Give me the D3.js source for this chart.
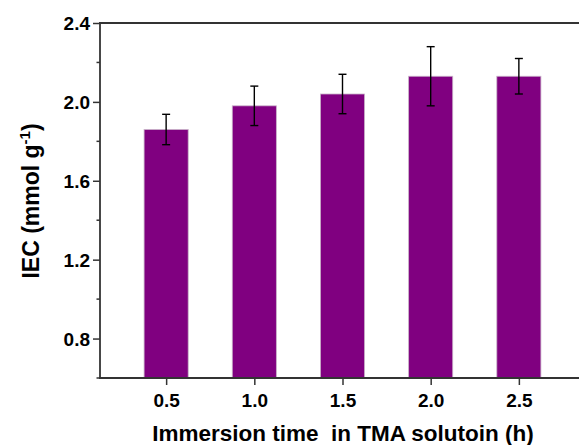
<!DOCTYPE html>
<html><head><meta charset="utf-8">
<script src="https://cdn.jsdelivr.net/npm/d3@7"></script>
<style>body{margin:0;background:#fff}svg{display:block}text{font-family:"Liberation Sans",Arial,sans-serif;font-weight:bold;fill:#000}</style>
</head><body><svg id="c" width="579" height="445"></svg>
<script>
const times = [0.5, 1.0, 1.5, 2.0, 2.5];
const iec = [1.86, 1.98, 2.04, 2.13, 2.13];
const errs = [0.077, 0.10, 0.10, 0.15, 0.09];
const yTicks = [0.8, 1.2, 1.6, 2.0, 2.4];
const yMinor = [0.6, 1.0, 1.4, 1.8, 2.2];
const xTickLabels = ["0.5", "1.0", "1.5", "2.0", "2.5"];

const svg = d3.select("#c");
const L = 100, R = 585, T = 23, B = 378;
const x = d3.scaleLinear().domain([0.125, 2.875]).range([L, R]);
const y = d3.scaleLinear().domain([0.6, 2.4]).range([B, T]);
const bw = x(0.25) - x(0);
const ax = "#333";

svg.append("g").selectAll("rect").data(times).join("rect")
  .attr("x", (d) => x(d) - bw / 2).attr("width", bw)
  .attr("y", (d, i) => y(iec[i])).attr("height", (d, i) => y(0.6) - y(iec[i]))
  .attr("fill", "#800080").attr("stroke", "#c9b3c9").attr("stroke-width", 0.8);

const eg = svg.append("g").attr("stroke", "#000").attr("stroke-width", 1.4);
times.forEach((t, i) => {
  const cx = x(t), y1 = y(iec[i] + errs[i]), y2 = y(iec[i] - errs[i]);
  eg.append("line").attr("x1", cx).attr("x2", cx).attr("y1", y1).attr("y2", y2);
  eg.append("line").attr("x1", cx - 4).attr("x2", cx + 4).attr("y1", y1).attr("y2", y1);
  eg.append("line").attr("x1", cx - 4).attr("x2", cx + 4).attr("y1", y2).attr("y2", y2);
});

// axes
const yAx = svg.append("g").attr("transform", `translate(${L},0)`)
  .call(d3.axisLeft(y).tickValues(yTicks).tickFormat(d3.format(".1f")).tickSize(7).tickPadding(3));
yAx.select(".domain").remove();
yAx.attr("font-size", 19).attr("font-family", null);
yAx.selectAll("line").attr("stroke", ax).attr("stroke-width", 1.5);
yAx.selectAll("text").style("font-size", "19px").attr("dy", "0.36em");
svg.append("g").selectAll("line").data(yMinor).join("line")
  .attr("x1", L - 3.5).attr("x2", L).attr("y1", (d) => y(d)).attr("y2", (d) => y(d))
  .attr("stroke", ax).attr("stroke-width", 1.5);

const xAx = svg.append("g").attr("transform", `translate(0,${B})`)
  .call(d3.axisBottom(x).tickValues(times).tickFormat((d, i) => xTickLabels[i]).tickSize(7).tickPadding(9));
xAx.select(".domain").remove();
xAx.attr("font-size", 19).attr("font-family", null);
xAx.selectAll("line").attr("stroke", ax).attr("stroke-width", 1.5);
xAx.selectAll("text").style("font-size", "19px");

// frame lines
svg.append("line").attr("x1", L).attr("x2", L).attr("y1", T - 0.5).attr("y2", B + 0.5).attr("stroke", ax).attr("stroke-width", 1.8);
svg.append("line").attr("x1", L - 1).attr("x2", 579).attr("y1", B).attr("y2", B).attr("stroke", ax).attr("stroke-width", 1.8);
svg.append("line").attr("x1", L - 1).attr("x2", 579).attr("y1", T).attr("y2", T).attr("stroke", ax).attr("stroke-width", 1.8);

// titles
svg.append("text").attr("x", 343).attr("y", 441).attr("text-anchor", "middle")
  .style("font-size", "22.5px").attr("xml:space", "preserve").style("white-space", "pre")
  .text("Immersion time  in TMA solutoin (h)");

const yt = svg.append("text").attr("transform", "translate(39,201) rotate(-90)")
  .attr("text-anchor", "middle").style("font-size", "23px");
yt.append("tspan").text("IEC (mmol g");
yt.append("tspan").attr("dy", -9).style("font-size", "15px").text("-1");
yt.append("tspan").attr("dy", 9).text(")");
</script></body></html>
